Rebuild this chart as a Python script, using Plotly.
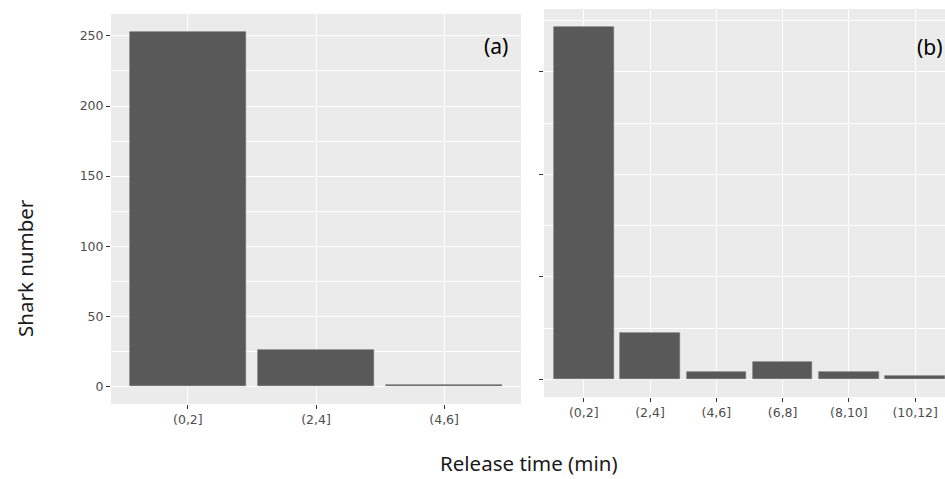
import plotly.graph_objects as go

# Data
cats_a = ["(0,2]", "(2,4]", "(4,6]"]
counts_a = [253, 26, 1]
cats_b = ["(0,2]", "(2,4]", "(4,6]", "(6,8]", "(8,10]", "(10,12]"]
counts_b = [344, 45, 7, 17, 7, 3]
yticks_a = [0, 50, 100, 150, 200, 250]
yticks_b = [0, 100, 200, 300]

W, H = 945, 479
def px_x(p): return p / W
def px_y(p): return 1 - p / H

BAR = "#595959"
PANEL = "#ebebeb"
TICKC = "#4d4d4d"

fig = go.Figure()
fig.add_trace(go.Bar(x=cats_a, y=counts_a, width=0.9, marker=dict(color=BAR, line=dict(width=0.6, color="#6a6a6a")),
                     xaxis="x", yaxis="y", showlegend=False))
fig.add_trace(go.Bar(x=cats_b, y=counts_b, width=0.9, marker=dict(color=BAR, line=dict(width=0.6, color="#6a6a6a")),
                     xaxis="x2", yaxis="y2", showlegend=False))

axis_common = dict(showgrid=True, gridcolor="white", gridwidth=1.2, zeroline=False,
                   ticks="outside", ticklen=4, tickcolor="#333333", tickwidth=1,
                   tickfont=dict(family="DejaVu Sans, Verdana", size=12.5, color=TICKC),
                   showline=False)

fig.update_layout(
    width=W, height=H, margin=dict(l=0, r=0, t=0, b=0),
    paper_bgcolor="white", plot_bgcolor=PANEL, bargap=0,
    xaxis=dict(domain=[px_x(111), px_x(521)], anchor="y", type="category",
               range=[-0.6, 2.6], **axis_common),
    yaxis=dict(domain=[px_y(404), px_y(14)], anchor="x", range=[-12.65, 265.65],
               tickvals=yticks_a, minor=dict(dtick=25, tick0=0, showgrid=True, gridcolor="white", gridwidth=0.6, ticks=""),
               **axis_common),
    xaxis2=dict(domain=[px_x(544), 1.0], anchor="y2", type="category",
                range=[-0.6, 5.45], **axis_common),
    yaxis2=dict(domain=[px_y(397), px_y(9)], anchor="x2", range=[-17.2, 361.2],
                tickvals=yticks_b, showticklabels=False,
                minor=dict(dtick=50, tick0=0, showgrid=True, gridcolor="white", gridwidth=0.6, ticks=""),
                **axis_common),
)

title_font = dict(family="Noto Sans, Open Sans", size=20.5, color="#1a1a1a")
fig.add_annotation(text="Shark number", xref="paper", yref="paper", x=px_x(25), y=px_y(268),
                   textangle=-90, showarrow=False, font=title_font, xanchor="center", yanchor="middle")
fig.add_annotation(text="Release time (min)", xref="paper", yref="paper", x=px_x(529), y=px_y(463),
                   showarrow=False, font=title_font, xanchor="center", yanchor="middle")
fig.add_annotation(text="(a)", xref="paper", yref="paper", x=px_x(496), y=px_y(46),
                   showarrow=False, font=dict(family="Noto Sans, Open Sans", size=21, color="black"),
                   xanchor="center", yanchor="middle")
fig.add_annotation(text="(b)", xref="paper", yref="paper", x=px_x(945), y=px_y(47),
                   showarrow=False, font=dict(family="Noto Sans, Open Sans", size=21, color="black"),
                   xanchor="right", yanchor="middle")

fig.write_html("out.html", config={"displayModeBar": False},
               post_script="document.body.style.margin='0';document.body.style.overflow='hidden';")
